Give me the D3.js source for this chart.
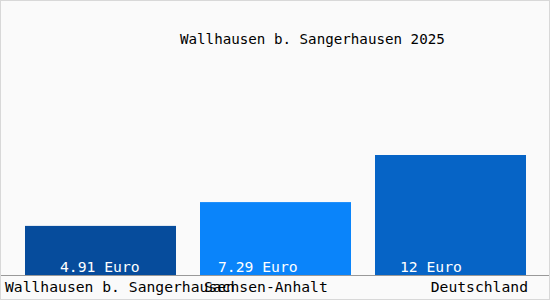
<!DOCTYPE html>
<html>
<head>
<meta charset="utf-8">
<script src="https://cdn.jsdelivr.net/npm/d3@7"></script>
<style>
  html, body { margin: 0; padding: 0; background: #fff; }
  svg { display: block; }
  text { font-family: "DejaVu Sans Mono", monospace; }
</style>
</head>
<body>
<svg id="chart" width="550" height="300"></svg>
<script>
const title = "Wallhausen b. Sangerhausen 2025";
const categories = ["Wallhausen b. Sangerhausen", "Sachsen-Anhalt", "Deutschland"];
const values = [4.91, 7.29, 12];
const valueLabels = ["4.91 Euro", "7.29 Euro", "12 Euro"];

const W = 550, H = 300;
const BASE = 275;
const colors = ["#064c9c", "#0a84fa", "#0664c6"];
// label placement as seen in the picture
const valueLabelDx = [35, 18, 25];
const catAnchor = ["start", "start", "end"];
const catX = [5, 204, 528];

const svg = d3.select("#chart");

svg.append("rect")
  .attr("x", 0.5).attr("y", 0.5)
  .attr("width", W - 1).attr("height", H - 1)
  .attr("fill", "#fafafa")
  .attr("stroke", "#d8d8d8");

const x = d3.scaleBand()
  .domain(categories)
  .range([25, 526])
  .paddingInner(24 / 175)
  .paddingOuter(0);

const y = d3.scaleLinear()
  .domain([0, 12])
  .range([BASE, 155]);

svg.append("text")
  .attr("x", 180).attr("y", 44)
  .attr("font-size", 14.2)
  .attr("fill", "#000")
  .text(title);

svg.append("g")
  .selectAll("rect")
  .data(values)
  .join("rect")
  .attr("x", (d, i) => x(categories[i]))
  .attr("y", d => y(d))
  .attr("width", x.bandwidth())
  .attr("height", d => y(0) - y(d))
  .attr("fill", (d, i) => colors[i]);

svg.append("g")
  .selectAll("text")
  .data(valueLabels)
  .join("text")
  .attr("x", (d, i) => x(categories[i]) + valueLabelDx[i])
  .attr("y", 272)
  .attr("font-size", 14.7)
  .attr("fill", "#fff")
  .text(d => d);

svg.append("line")
  .attr("x1", 1).attr("x2", W - 1)
  .attr("y1", BASE + 0.5).attr("y2", BASE + 0.5)
  .attr("stroke", "#999");

svg.append("g")
  .selectAll("text")
  .data(categories)
  .join("text")
  .attr("x", (d, i) => catX[i])
  .attr("y", 292)
  .attr("text-anchor", (d, i) => catAnchor[i])
  .attr("font-size", 14.7)
  .attr("fill", "#000")
  .text(d => d);
</script>
</body>
</html>
